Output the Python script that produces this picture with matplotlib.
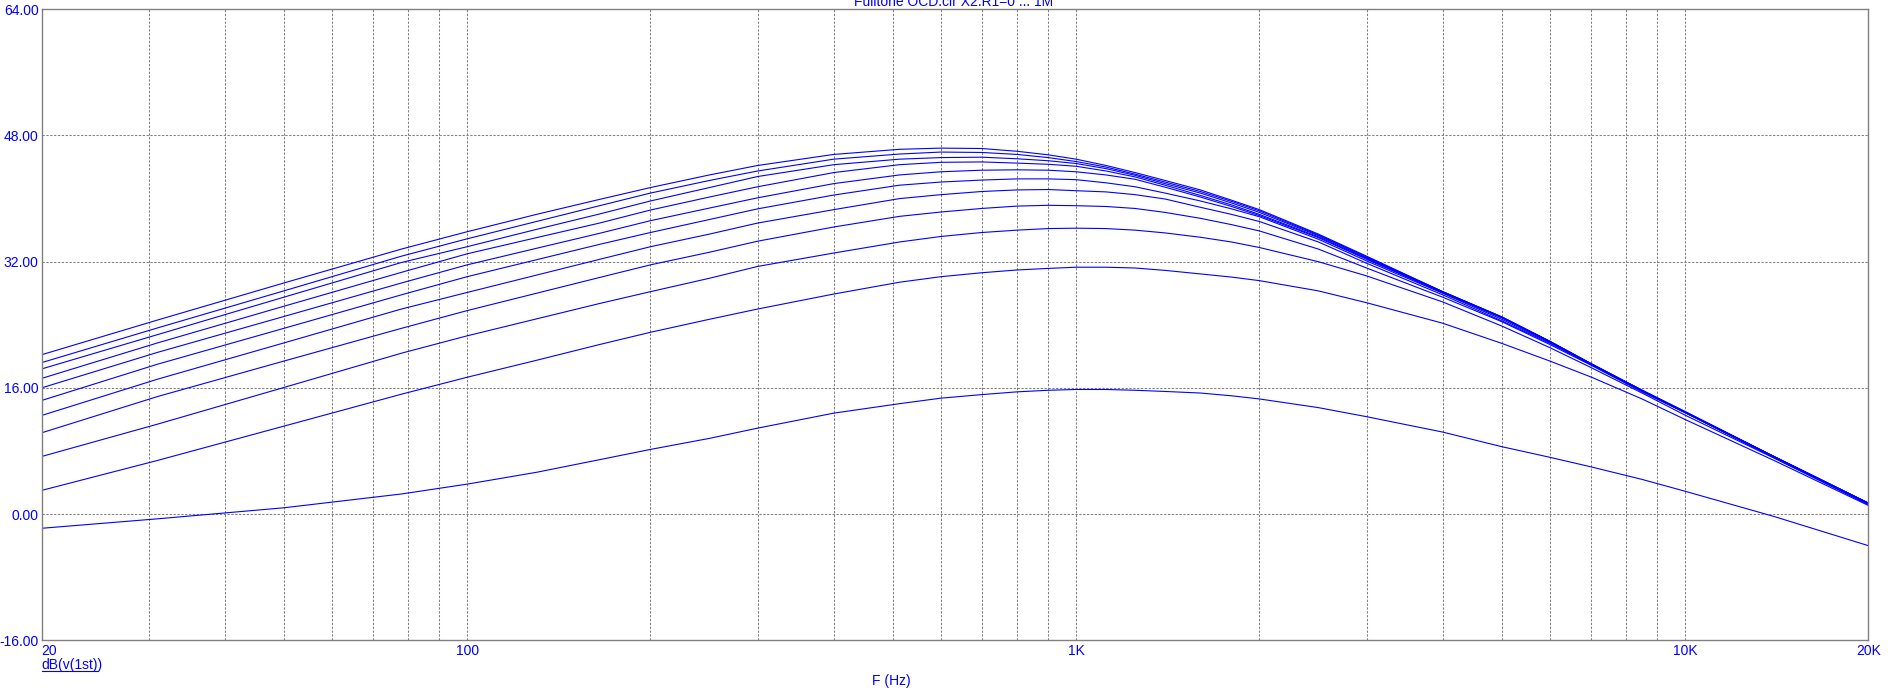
import matplotlib
matplotlib.use("Agg")
import matplotlib.pyplot as plt
from matplotlib.lines import Line2D

# frequency points (Hz) where the curves were read
freq = [20, 31, 50, 78, 100, 130, 165, 200, 250, 300, 400, 513, 600, 700, 800,
        900, 1000, 1120, 1250, 1400, 1600, 1800, 2000, 2500, 3000, 4000, 5000,
        6000, 7000, 8500, 10000, 14000, 20000]

# dB(v(1st)) for the R1 sweep, top curve first
gain_1 = [20.2, 24.6, 29.3, 33.6, 35.8, 38.0, 39.9, 41.4, 43.0, 44.2, 45.6, 46.25,
          46.4, 46.35, 46.0, 45.55, 45.0, 44.2, 43.3, 42.3, 41.1, 39.8, 38.6, 35.5,
          32.7, 28.2, 25.0, 21.9, 19.1, 15.7, 13.0, 7.3, 1.4]
gain_2 = [19.2, 23.6, 28.3, 32.7, 34.9, 37.1, 39.1, 40.7, 42.3, 43.5, 45.0, 45.65,
          45.9, 45.85, 45.6, 45.2, 44.7, 44.0, 43.1, 42.1, 40.9, 39.65, 38.45, 35.4,
          32.6, 28.2, 25.0, 21.9, 19.1, 15.7, 13.0, 7.3, 1.4]
gain_3 = [18.4, 22.75, 27.5, 31.9, 33.9, 36.1, 38.05, 39.7, 41.4, 42.8, 44.3, 45.0,
          45.2, 45.25, 45.05, 44.8, 44.45, 43.8, 42.95, 41.9, 40.7, 39.45, 38.25, 35.3,
          32.5, 28.2, 25.0, 21.9, 19.1, 15.7, 12.95, 7.3, 1.4]
gain_4 = [17.2, 21.7, 26.35, 30.65, 33.0, 35.05, 36.9, 38.55, 40.2, 41.5, 43.3, 44.3,
          44.6, 44.65, 44.5, 44.35, 44.1, 43.5, 42.75, 41.7, 40.4, 39.2, 38.0, 35.15,
          32.4, 28.1, 24.9, 21.85, 19.05, 15.7, 12.95, 7.3, 1.4]
gain_5 = [16.0, 20.5, 25.05, 29.3, 31.6, 33.7, 35.6, 37.2, 38.8, 40.1, 41.9, 43.0,
          43.4, 43.6, 43.65, 43.6, 43.4, 43.0, 42.45, 41.45, 40.2, 39.0, 37.85, 35.05,
          32.3, 28.1, 24.9, 21.85, 19.0, 15.65, 12.9, 7.25, 1.35]
gain_6 = [14.4, 19.0, 23.55, 27.8, 30.1, 32.25, 34.2, 35.7, 37.35, 38.7, 40.45, 41.7,
          42.1, 42.35, 42.5, 42.5, 42.4, 42.0, 41.5, 40.7, 39.7, 38.7, 37.7, 34.85,
          32.1, 28.0, 24.7, 21.75, 19.0, 15.65, 12.9, 7.25, 1.35]
gain_7 = [12.5, 17.1, 21.7, 26.0, 28.1, 30.3, 32.3, 33.9, 35.5, 36.9, 38.6, 40.0,
          40.5, 40.9, 41.1, 41.15, 41.0, 40.85, 40.5, 39.95, 38.9, 38.0, 37.1, 34.5,
          31.8, 27.8, 24.5, 21.65, 19.0, 15.6, 12.9, 7.2, 1.3]
gain_8 = [10.3, 14.9, 19.4, 23.55, 25.8, 28.0, 30.0, 31.6, 33.2, 34.6, 36.4, 37.75,
          38.3, 38.75, 39.05, 39.15, 39.1, 39.0, 38.75, 38.25, 37.5, 36.7, 35.9, 33.6,
          31.2, 27.5, 24.4, 21.5, 18.9, 15.5, 12.85, 7.2, 1.3]
gain_9 = [7.3, 11.4, 16.05, 20.4, 22.6, 24.75, 26.7, 28.2, 29.9, 31.4, 33.1, 34.5,
          35.2, 35.7, 36.0, 36.2, 36.25, 36.2, 36.0, 35.65, 35.1, 34.5, 33.8, 32.0,
          30.2, 26.9, 23.85, 21.1, 18.6, 15.35, 12.55, 7.1, 1.2]
gain_10 = [3.0, 6.8, 11.15, 15.2, 17.35, 19.5, 21.5, 23.05, 24.7, 26.0, 27.9, 29.4,
           30.1, 30.6, 30.95, 31.15, 31.3, 31.3, 31.2, 30.9, 30.45, 30.05, 29.6, 28.3,
           26.8, 24.2, 21.65, 19.4, 17.4, 14.6, 12.0, 6.8, 1.1]
gain_11 = [-1.8, -0.6, 0.8, 2.55, 3.8, 5.3, 6.9, 8.2, 9.6, 10.9, 12.8, 14.0,
           14.7, 15.15, 15.5, 15.7, 15.8, 15.8, 15.7, 15.55, 15.35, 15.0, 14.6, 13.5,
           12.35, 10.4, 8.55, 7.2, 6.0, 4.4, 2.9, -0.3, -4.0]

y_ticks = [-16, 0, 16, 32, 48, 64]
x_ticks = [20, 100, 1000, 10000, 20000]
x_tick_labels = ["20", "100", "1K", "10K", "20K"]
x_grid = [30, 40, 50, 60, 70, 80, 90, 100, 200, 300, 400, 500, 600, 700, 800, 900,
          1000, 2000, 3000, 4000, 5000, 6000, 7000, 8000, 9000, 10000]

curves = [gain_1, gain_2, gain_3, gain_4, gain_5, gain_6,
          gain_7, gain_8, gain_9, gain_10, gain_11]

blue = "#0000ff"
gray = "#808080"
W, H = 1892, 690
fs = 10
plt.rcParams["font.family"] = ["Liberation Sans", "DejaVu Sans"]
plt.rcParams["font.size"] = fs

fig = plt.figure(figsize=(W / 100, H / 100), dpi=100)
ax = fig.add_axes([41.5 / W, 1 - 640.3 / H, (1868.3 - 41.5) / W, (640.3 - 9.3) / H])

for c in curves:
    ax.plot(freq, c, color=blue, lw=0.8)

ax.set_xscale("log")
ax.set_xlim(20, 20000)
ax.set_ylim(-16, 64)

dash = (0, (2.2, 1.5))
for f in x_grid:
    ax.axvline(f, color=gray, lw=0.75, ls=dash, zorder=0)
for v in y_ticks[1:-1]:
    ax.axhline(v, color=gray, lw=0.75, ls=dash, zorder=0)

ax.set_yticks(y_ticks)
ax.set_yticklabels(["%.2f" % v for v in y_ticks])
ax.set_xticks(x_ticks)
ax.set_xticklabels(x_tick_labels)
ax.xaxis.set_minor_locator(matplotlib.ticker.NullLocator())
ax.tick_params(axis="both", length=0, colors=blue, labelsize=fs)
ax.tick_params(axis="y", pad=2.0)
ax.tick_params(axis="x", pad=2.6)
ax.get_xticklabels()[0].set_ha("left")

for s in ax.spines.values():
    s.set_color(gray)
    s.set_linewidth(1.0)

fig.text(954 / W, 1 - 6 / H, "Fulltone OCD.cir X2.R1=0 ... 1M", color=blue,
         ha="center", va="baseline", fontsize=fs)
fig.text(41.5 / W, 1 - 668.5 / H, "dB(v(1st))", color=blue, ha="left",
         va="baseline", fontsize=fs)
fig.add_artist(Line2D([41.5 / W, 98 / W], [1 - 670.8 / H, 1 - 670.8 / H],
                      color=blue, lw=0.8))
fig.text(891 / W, 1 - 680.5 / H, "F (Hz)", color=blue, ha="center",
         va="center", fontsize=fs)

fig.savefig("out.png", dpi=100, facecolor="white")
